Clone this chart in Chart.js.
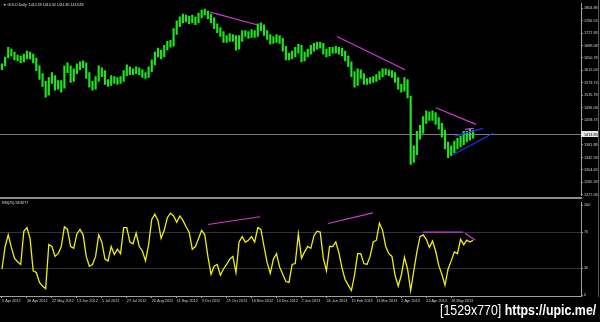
<!DOCTYPE html>
<html lang="en">

<head>
    <meta charset="UTF-8">
    <title>GOLD,Daily</title>
    <script src="https://cdn.jsdelivr.net/npm/chart.js"></script>
    <style>
        body {
            margin: 0;
            width: 600px;
            height: 322px;
            background: #000;
            position: relative;
            overflow: hidden;
            font-family: 'Liberation Sans', sans-serif;
        }

        canvas {
            position: absolute;
            left: 0;
        }

        #priceChart {
            top: 0;
        }

        #rsiChart {
            top: 199px;
        }

        .sep {
            position: absolute;
            left: 0;
            top: 197px;
            width: 582px;
            height: 2px;
            background: #8c8c8c;
        }

        .edge {
            position: absolute;
            left: 598px;
            top: 0;
            width: 1px;
            height: 297px;
            background: #5a5a5a;
        }

        .tiny {
            position: absolute;
            color: #e0e0e0;
            font-size: 3.6px;
            white-space: pre;
            line-height: 4px;
        }

        .stamp {
            position: absolute;
            left: 440px;
            top: 302px;
            color: #fff;
            font-size: 15px;
            line-height: 16px;
            white-space: nowrap;
            transform-origin: left top;
        }
    </style>
</head>

<body>
    <canvas id="priceChart" width="600" height="199"></canvas>
    <canvas id="rsiChart" width="600" height="123"></canvas>
    <div class="sep"></div>
    <div class="edge"></div>
    <div class="tiny" style="left:3px; top:3px;">▼ GOLD,Daily  1412.59 1413.42 1411.85 1413.83</div>
    <div class="tiny" style="left:2px; top:201px;">RSI(25) 58.8277</div>
    <div class="stamp" id="stamp">[1529x770] <b>https://upic.me/</b></div>

    <script>
        // one entry = two daily bars
        const highs = [
            1632.5, 1653.6, 1683.9, 1677.8, 1668.8, 1659.7, 1656.7, 1662.7, 1671.8, 1668.8,
            1662.7, 1650.6, 1626.4, 1602.2, 1578.0, 1590.1, 1605.2, 1596.2, 1581.0, 1581.0,
            1626.4, 1635.5, 1626.4, 1617.3, 1632.5, 1638.5, 1641.5, 1635.5, 1605.2, 1578.0,
            1593.1, 1626.4, 1620.4, 1611.3, 1584.1, 1596.2, 1593.1, 1590.1, 1593.1, 1611.3,
            1629.4, 1623.4, 1617.3, 1623.4, 1620.4, 1614.3, 1605.2, 1623.4, 1644.6, 1668.8,
            1680.9, 1674.8, 1689.9, 1702.0, 1705.1, 1741.4, 1765.5, 1777.7, 1786.7, 1783.7,
            1780.7, 1783.7, 1777.7, 1789.8, 1798.8, 1801.9, 1795.8, 1786.7, 1774.6, 1756.5,
            1744.4, 1732.3, 1720.2, 1726.2, 1723.2, 1720.2, 1720.2, 1735.3, 1735.3, 1732.3,
            1738.3, 1735.3, 1756.5, 1759.5, 1753.5, 1735.3, 1723.2, 1717.2, 1723.2, 1720.2,
            1711.1, 1686.9, 1665.7, 1671.8, 1683.9, 1693.0, 1689.9, 1668.8, 1677.8, 1689.9,
            1696.0, 1699.0, 1699.0, 1696.0, 1677.8, 1683.9, 1683.9, 1686.9, 1683.9, 1680.9,
            1671.8, 1656.7, 1638.5, 1608.3, 1617.3, 1614.3, 1602.2, 1587.1, 1590.1, 1593.1,
            1599.2, 1608.3, 1617.3, 1617.3, 1614.3, 1611.3, 1605.2, 1590.1, 1568.9, 1590.1,
            1584.1, 1532.6, 1378.4, 1423.7, 1441.9, 1469.1, 1487.3, 1484.2, 1487.3, 1481.2,
            1466.1, 1447.9, 1426.8, 1390.4, 1378.4, 1393.5, 1402.6, 1408.6, 1423.7, 1423.7,
            1432.8, 1426.8
        ];
        const lows = [
            1614.3, 1626.4, 1650.6, 1656.7, 1644.6, 1641.5, 1635.5, 1638.5, 1647.6, 1647.6,
            1635.5, 1611.3, 1584.1, 1562.9, 1529.6, 1535.7, 1572.0, 1550.8, 1553.8, 1544.7,
            1556.8, 1605.2, 1575.0, 1578.0, 1602.2, 1614.3, 1620.4, 1587.1, 1559.9, 1550.8,
            1553.8, 1578.0, 1593.1, 1568.9, 1562.9, 1565.9, 1572.0, 1568.9, 1572.0, 1578.0,
            1596.2, 1599.2, 1599.2, 1602.2, 1599.2, 1590.1, 1587.1, 1590.1, 1608.3, 1629.4,
            1653.6, 1647.6, 1653.6, 1674.8, 1683.9, 1686.9, 1723.2, 1747.4, 1759.5, 1762.5,
            1756.5, 1759.5, 1753.5, 1759.5, 1774.6, 1783.7, 1771.6, 1759.5, 1741.4, 1729.3,
            1717.2, 1699.0, 1699.0, 1702.0, 1702.0, 1674.8, 1677.8, 1702.0, 1717.2, 1711.1,
            1714.1, 1714.1, 1717.2, 1735.3, 1720.2, 1708.1, 1693.0, 1696.0, 1699.0, 1696.0,
            1671.8, 1644.6, 1644.6, 1647.6, 1653.6, 1665.7, 1638.5, 1641.5, 1653.6, 1662.7,
            1671.8, 1677.8, 1680.9, 1662.7, 1653.6, 1656.7, 1665.7, 1665.7, 1662.7, 1656.7,
            1641.5, 1623.4, 1593.1, 1559.9, 1565.9, 1587.1, 1568.9, 1568.9, 1572.0, 1575.0,
            1578.0, 1584.1, 1593.1, 1599.2, 1596.2, 1590.1, 1575.0, 1553.8, 1544.7, 1547.8,
            1526.6, 1320.9, 1326.9, 1351.1, 1399.5, 1417.7, 1447.9, 1457.0, 1457.0, 1444.9,
            1429.8, 1405.6, 1369.3, 1342.0, 1348.1, 1357.2, 1369.3, 1375.3, 1381.4, 1390.4,
            1396.5, 1402.6
        ];
        const rsi = [
            29, 54, 67, 53, 41, 37, 34, 71, 75, 63, 27, 25, 14, 10, 7, 56, 54, 43, 46, 54,
            76, 73, 54, 52, 68, 73, 67, 43, 32, 34, 43, 67, 59, 40, 38, 54, 45, 51, 46, 75,
            75, 59, 57, 69, 54, 49, 38, 56, 84, 90, 83, 63, 72, 86, 91, 88, 81, 88, 83, 76,
            70, 51, 54, 63, 72, 67, 43, 23, 32, 34, 22, 29, 34, 40, 43, 25, 59, 65, 59, 61,
            65, 59, 75, 73, 54, 36, 24, 40, 46, 31, 23, 15, 14, 34, 35, 68, 41, 48, 54, 52,
            66, 71, 70, 41, 27, 54, 54, 59, 47, 30, 17, 11, 5, 22, 46, 46, 35, 34, 43, 59,
            61, 80, 72, 54, 46, 43, 22, 10, 22, 42, 29, 5, 27, 48, 65, 67, 62, 53, 60, 49,
            33, 23, 11, 29, 38, 48, 46, 62, 56, 61, 59, 61
        ];
        const lastPrice = 1413.83;
        const priceTicks = [1804.88, 1766.53, 1727.83, 1689.08, 1650.78, 1612.03, 1573.73, 1535.78,
            1496.08, 1458.73, 1381.88, 1342.58, 1304.63, 1265.33, 1227.08];
        const rsiLevels = [100, 70, 30, 0];
        const dateLabels = ["5 Apr 2012", "30 Apr 2012", "22 May 2012", "13 Jun 2012", "5 Jul 2012",
            "27 Jul 2012", "20 Aug 2012", "11 Sep 2012", "3 Oct 2012", "25 Oct 2012", "16 Nov 2012",
            "10 Dec 2012", "2 Jan 2013", "24 Jan 2013", "15 Feb 2013", "11 Mar 2013", "2 Apr 2013",
            "24 Apr 2013", "16 May 2013"];

        // hand drawn trend lines: [x1, y1, x2, y2] in bar index / value
        const priceLines = [
            [66.7, 1792.8, 81.7, 1753.5],
            [107.4, 1717.2, 129.2, 1614.3],
            [139.1, 1496.3, 151.9, 1444.9],
            [148.4, 1429.8, 151.3, 1432.8]
        ];
        const channelLines = [
            [145.2, 1408.6, 154.2, 1432.8],
            [144.6, 1351.1, 157.4, 1417.7]
        ];
        const rsiLines = [
            [66.0, 78.5, 82.7, 87.1],
            [104.5, 79.6, 118.9, 91.4],
            [134.9, 69.9, 147.8, 69.9],
            [148.4, 68.8, 151.6, 61.3]
        ];

        const axisColor = '#a0a0a0';
        const tinyFont = { family: 'Liberation Sans', size: 3.8 };
        const xMin = -0.64;
        const xMax = 185.6;

        function segment(l, color) {
            return {
                type: 'line',
                data: [{ x: l[0], y: l[1] }, { x: l[2], y: l[3] }],
                borderColor: color,
                borderWidth: 1.2,
                pointRadius: 0,
                order: 0
            };
        }

        const bidLine = {
            id: 'bidLine',
            beforeDatasetsDraw(chart) {
                const { ctx, chartArea, scales } = chart;
                const py = Math.round(scales.y.getPixelForValue(lastPrice)) + 0.5;
                ctx.save();
                ctx.strokeStyle = '#7c7c7c';
                ctx.lineWidth = 1;
                ctx.beginPath();
                ctx.moveTo(chartArea.left, py);
                ctx.lineTo(chartArea.right, py);
                ctx.stroke();
                ctx.restore();
            },
            afterDatasetsDraw(chart) {
                const { ctx, chartArea, scales } = chart;
                const py = Math.round(scales.y.getPixelForValue(lastPrice));
                ctx.save();
                ctx.fillStyle = '#e6e6e6';
                ctx.fillRect(chartArea.right, py - 3, 17, 6);
                ctx.fillStyle = '#000';
                ctx.font = '3.8px "Liberation Sans"';
                ctx.textBaseline = 'middle';
                ctx.fillText(lastPrice.toFixed(2), chartArea.right + 3, py + 0.5);
                ctx.restore();
            }
        };

        new Chart(document.getElementById('priceChart'), {
            type: 'bar',
            data: {
                datasets: [
                    {
                        data: highs.map((h, i) => ({ x: i, y: [lows[i], h] })),
                        backgroundColor: '#1ee41e',
                        barThickness: 1.5,
                        order: 1
                    },
                    ...priceLines.map(l => segment(l, '#d23ad8')),
                    ...channelLines.map(l => segment(l, '#2a2aff'))
                ]
            },
            options: {
                responsive: false,
                animation: false,
                layout: { padding: { left: 0, right: 0, top: 0, bottom: 2 } },
                plugins: { legend: { display: false }, tooltip: { enabled: false } },
                scales: {
                    x: { type: 'linear', display: false, offset: false, min: xMin, max: xMax },
                    y: {
                        position: 'right',
                        min: 1224.1,
                        max: 1820,
                        afterFit(s) { s.width = 19; },
                        afterBuildTicks(s) { s.ticks = priceTicks.map(v => ({ value: v })); },
                        ticks: { color: '#d0d0d0', font: tinyFont, padding: 1, callback: v => v.toFixed(2) },
                        grid: { drawOnChartArea: false, color: axisColor, tickLength: 2 },
                        border: { color: axisColor }
                    }
                }
            },
            plugins: [bidLine]
        });

        new Chart(document.getElementById('rsiChart'), {
            type: 'line',
            data: {
                datasets: [
                    {
                        data: rsi.map((v, i) => ({ x: i, y: v })),
                        borderColor: '#eeee10',
                        borderWidth: 1.3,
                        pointRadius: 0,
                        tension: 0,
                        order: 1
                    },
                    ...rsiLines.map(l => segment(l, '#d23ad8'))
                ]
            },
            options: {
                responsive: false,
                animation: false,
                layout: { padding: 0 },
                plugins: { legend: { display: false }, tooltip: { enabled: false } },
                scales: {
                    x: {
                        type: 'linear',
                        min: xMin,
                        max: xMax,
                        afterFit(s) { s.height = 26; },
                        afterBuildTicks(s) { s.ticks = dateLabels.map((d, k) => ({ value: k * 8 })); },
                        ticks: {
                            color: '#d0d0d0', font: tinyFont, padding: 1, align: 'start',
                            maxRotation: 0, autoSkip: false,
                            callback: (v, i) => dateLabels[i]
                        },
                        grid: { drawOnChartArea: false, color: axisColor, tickLength: 2 },
                        border: { color: axisColor }
                    },
                    y: {
                        position: 'right',
                        min: -1.08,
                        max: 103.2,
                        afterFit(s) { s.width = 19; },
                        afterBuildTicks(s) { s.ticks = rsiLevels.map(v => ({ value: v })); },
                        ticks: { color: '#d0d0d0', font: tinyFont, padding: 1 },
                        grid: {
                            color: c => (c.tick && (c.tick.value === 70 || c.tick.value === 30)) ? '#333333' : 'rgba(0,0,0,0)',
                            tickColor: axisColor,
                            tickLength: 2
                        },
                        border: { color: axisColor }
                    }
                }
            }
        });

        // squeeze the watermark to its width in the picture
        const stamp = document.getElementById('stamp');
        stamp.style.transform = 'scaleX(' + (156 / stamp.offsetWidth) + ')';
    </script>
</body>

</html>
